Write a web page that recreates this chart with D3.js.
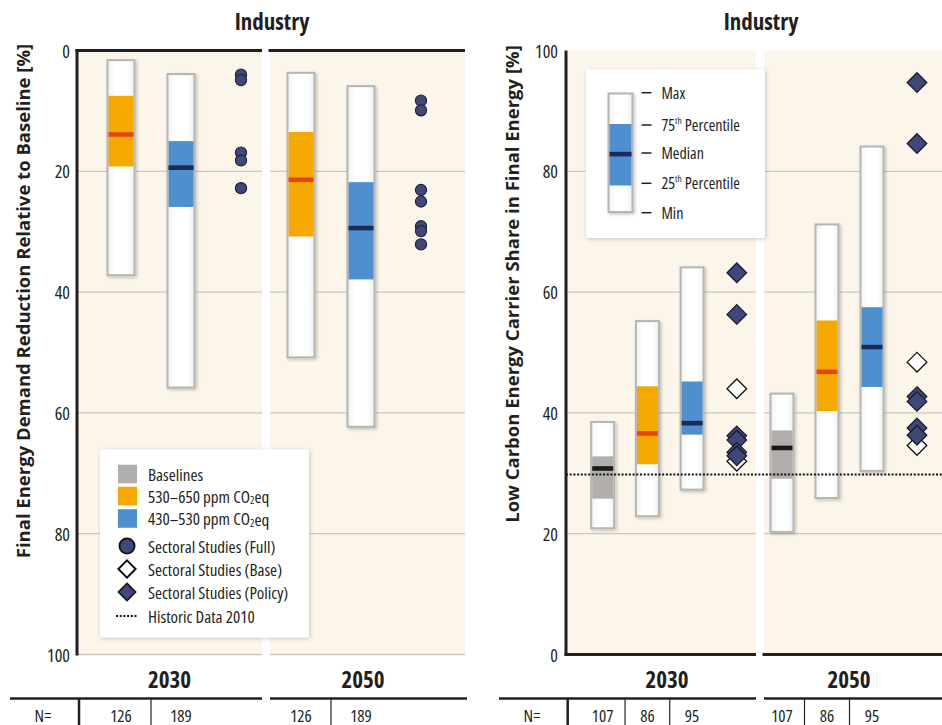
<!DOCTYPE html>
<html><head><meta charset="utf-8">
<script src="https://cdn.jsdelivr.net/npm/d3@7"></script>
<style>
body{margin:0;background:#fff}
svg{display:block}
text{font-family:'Open Sans',sans-serif;fill:#231f20;font-stretch:85%}
text.ytitle{font-stretch:100%}
text.yr{font-stretch:82%}
text.nt{font-stretch:82%}
</style>
</head><body><svg id="c" width="942" height="725"></svg>
<script>
// ---------------- DATA ----------------
const years = ["2030", "2050"];
const chartTitle = "Industry";
// Left chart: Final Energy Demand Reduction Relative to Baseline [%]
// stats: [min, 25th, median, 75th, max]
const leftScenarios = ["530-650", "430-530"];
const leftStats2030 = [[1.6, 7.5, 13.9, 19.2, 37.2], [3.9, 15.0, 19.4, 25.9, 55.8]];
const leftStats2050 = [[3.7, 13.5, 21.4, 30.8, 50.8], [5.9, 21.8, 29.4, 37.9, 62.3]];
const leftFull2030 = [4.0, 4.9, 16.9, 18.2, 22.8];
const leftFull2050 = [8.3, 9.9, 23.1, 25.0, 29.1, 29.9, 32.1];
const leftN = [126, 189];
const leftTicks = [0, 20, 40, 60, 80, 100];
// Right chart: Low Carbon Energy Carrier Share in Final Energy [%]
const rightScenarios = ["baseline", "530-650", "430-530"];
const rightStats2030 = [[20.9, 25.8, 30.8, 32.8, 38.5], [22.9, 31.5, 36.6, 44.4, 55.2], [27.3, 36.4, 38.3, 45.2, 64.1]];
const rightStats2050 = [[20.3, 29.1, 34.2, 37.1, 43.2], [25.9, 40.3, 46.8, 55.3, 71.2], [30.4, 44.3, 50.9, 57.5, 84.1]];
const rightPolicy2030 = [63.2, 56.3, 36.2, 35.5, 33.5, 32.9];
const rightBase2030 = [44.0, 32.0];
const rightPolicy2050 = [94.7, 84.6, 42.7, 41.9, 37.5, 36.3];
const rightBase2050 = [48.4, 34.6];
const rightN = [107, 86, 95];
const rightTicks = [0, 20, 40, 60, 80, 100];
const historic2010 = 29.8;

// ---------------- STYLE ----------------
const fillC = {"baseline": "#b1aeac", "530-650": "#f5a800", "430-530": "#4f8fcd"};
const medC = {"baseline": "#1a1a1a", "530-650": "#e0481c", "430-530": "#1b2a57"};
const bgC = "#fcf5e9", gridC = "#cbc8c2", ink = "#231f20", navy = "#3f4878";

const svg = d3.select("#c");
const defs = svg.append("defs");
const sh = defs.append("filter").attr("id", "sh").attr("x", "-30%").attr("y", "-10%").attr("width", "160%").attr("height", "120%");
sh.append("feDropShadow").attr("dx", 1.5).attr("dy", 1.5).attr("stdDeviation", 1.8).attr("flood-color", "#000").attr("flood-opacity", 0.22);
const sh2 = defs.append("filter").attr("id", "sh2").attr("x", "-10%").attr("y", "-10%").attr("width", "120%").attr("height", "120%");
sh2.append("feDropShadow").attr("dx", 1).attr("dy", 1).attr("stdDeviation", 2).attr("flood-color", "#000").attr("flood-opacity", 0.2);
const gr = defs.append("linearGradient").attr("id", "wg").attr("x1", 0).attr("x2", 1).attr("y1", 0).attr("y2", 0);
gr.append("stop").attr("offset", 0).attr("stop-color", "#f1f2f3");
gr.append("stop").attr("offset", 0.3).attr("stop-color", "#ffffff");
gr.append("stop").attr("offset", 0.7).attr("stop-color", "#ffffff");
gr.append("stop").attr("offset", 1).attr("stop-color", "#eef0f1");

// ---------------- HELPERS ----------------
function drawBox(g, cx, y, st, scen, w) {
  const top = Math.min(y(st[0]), y(st[4])), bot = Math.max(y(st[0]), y(st[4]));
  g.append("rect").attr("x", cx - w / 2).attr("y", top).attr("width", w).attr("height", bot - top)
    .attr("fill", "url(#wg)").attr("stroke", "#b5b5b5").attr("stroke-width", 2).attr("filter", "url(#sh)");
  const qt = Math.min(y(st[1]), y(st[3])), qb = Math.max(y(st[1]), y(st[3]));
  g.append("rect").attr("x", cx - w / 2 + 1).attr("y", qt).attr("width", w - 2).attr("height", qb - qt).attr("fill", fillC[scen]);
  g.append("rect").attr("x", cx - w / 2 + 1).attr("y", y(st[2]) - 2.3).attr("width", w - 2).attr("height", 4.6).attr("fill", medC[scen]);
}
const diamond = h => `M0,${-h}L${h},0L0,${h}L${-h},0Z`;

function panelBg(g, x0, x1, y0, y1) {
  g.append("rect").attr("x", x0).attr("y", y0).attr("width", x1 - x0).attr("height", y1 - y0).attr("fill", bgC);
}
function grid(g, x0, x1, y, ticks) {
  g.selectAll(null).data(ticks).enter().append("line")
    .attr("x1", x0).attr("x2", x1).attr("y1", d => y(d)).attr("y2", d => y(d))
    .attr("stroke", gridC).attr("stroke-width", 1.3);
}

// ---------------- LEFT CHART ----------------
const L = {ax: 77, p1: [77, 262], p2: [270, 465], top: 50.5, bot: 654.5};
const yL = d3.scaleLinear().domain([0, 100]).range([L.top, L.bot]);
const gL = svg.append("g");
panelBg(gL, L.p1[0], L.p1[1], L.top, L.bot);
panelBg(gL, L.p2[0], L.p2[1], L.top, L.bot);
grid(gL, L.p1[0], L.p1[1], yL, leftTicks.filter(d => d > 0));
grid(gL, L.p2[0], L.p2[1], yL, leftTicks.filter(d => d > 0));
const xL = {"2030": d3.scaleLinear().domain([0, 2]).range([121, 241]), "2050": d3.scaleLinear().domain([0, 2]).range([301, 421])};
[[years[0], leftStats2030, leftFull2030], [years[1], leftStats2050, leftFull2050]].forEach(([yr, stats, full]) => {
  stats.forEach((st, i) => drawBox(gL, xL[yr](i), yL, st, leftScenarios[i], 27));
  gL.selectAll(null).data(full).enter().append("circle")
    .attr("cx", xL[yr](2)).attr("cy", d => yL(d)).attr("r", 5.6)
    .attr("fill", navy).attr("stroke", "#1c1f35").attr("stroke-width", 1.1);
});
gL.append("line").attr("x1", L.ax).attr("x2", L.ax).attr("y1", L.top - 1.5).attr("y2", L.bot + 1).attr("stroke", ink).attr("stroke-width", 3);
[L.p1, L.p2].forEach(p => gL.append("line").attr("x1", p[0] - 1.5).attr("x2", p[1]).attr("y1", L.top).attr("y2", L.top).attr("stroke", ink).attr("stroke-width", 3));
gL.selectAll(null).data(leftTicks).enter().append("text")
  .attr("x", 70).attr("y", d => yL(d)).attr("text-anchor", "end").attr("dominant-baseline", "central")
  .attr("font-size", 18).text(d => d);
gL.append("text").attr("class", "ytitle").attr("transform", "translate(30,301) rotate(-90)").attr("text-anchor", "middle")
  .attr("font-size", 18.5).attr("font-weight", "bold").text("Final Energy Demand Reduction Relative to Baseline [%]");
gL.append("text").attr("x", 272).attr("y", 30).attr("text-anchor", "middle").attr("font-size", 23).attr("font-weight", "bold").text(chartTitle);
gL.append("text").attr("class", "yr").attr("x", 169.5).attr("y", 688).attr("text-anchor", "middle").attr("font-size", 23).attr("font-weight", "bold").text(years[0]);
gL.append("text").attr("class", "yr").attr("x", 363).attr("y", 688).attr("text-anchor", "middle").attr("font-size", 23).attr("font-weight", "bold").text(years[1]);
gL.append("line").attr("x1", 10).attr("x2", 262).attr("y1", 698.5).attr("y2", 698.5).attr("stroke", ink).attr("stroke-width", 2.5);
gL.append("line").attr("x1", 270).attr("x2", 467).attr("y1", 698.5).attr("y2", 698.5).attr("stroke", ink).attr("stroke-width", 2.5);
gL.append("line").attr("x1", 79).attr("x2", 79).attr("y1", 698).attr("y2", 725).attr("stroke", ink).attr("stroke-width", 2.5);
[(xL["2030"](0) + xL["2030"](1)) / 2, (xL["2050"](0) + xL["2050"](1)) / 2].forEach(x =>
  gL.append("line").attr("x1", x).attr("x2", x).attr("y1", 698).attr("y2", 725).attr("stroke", ink).attr("stroke-width", 1.2));
gL.append("text").attr("class", "nt").attr("x", 43).attr("y", 715).attr("text-anchor", "middle").attr("dominant-baseline", "central").attr("font-size", 17).text("N=");
years.forEach(yr => leftN.forEach((n, i) => gL.append("text").attr("class", "nt").attr("x", xL[yr](i)).attr("y", 715)
  .attr("text-anchor", "middle").attr("dominant-baseline", "central").attr("font-size", 17).text(n)));

const lg = svg.append("g");
lg.append("rect").attr("x", 100).attr("y", 449.5).attr("width", 209).attr("height", 188).attr("fill", "#fff").attr("filter", "url(#sh2)");
const legRows = [
  {t: "Baselines", k: "sq", c: fillC["baseline"], y: 474},
  {t: "530–650 ppm CO", sub: "2", t2: "eq", k: "sq", c: fillC["530-650"], y: 496},
  {t: "430–530 ppm CO", sub: "2", t2: "eq", k: "sq", c: fillC["430-530"], y: 518.5},
  {t: "Sectoral Studies (Full)", k: "circ", y: 546},
  {t: "Sectoral Studies (Base)", k: "dopen", y: 569},
  {t: "Sectoral Studies (Policy)", k: "dfill", y: 592},
  {t: "Historic Data 2010", k: "dot", y: 616}
];
legRows.forEach(r => {
  if (r.k === "sq") lg.append("rect").attr("x", 118).attr("y", r.y - 9.3).attr("width", 19).attr("height", 18.6).attr("fill", r.c);
  if (r.k === "circ") lg.append("circle").attr("cx", 127).attr("cy", r.y).attr("r", 7.6).attr("fill", navy).attr("stroke", "#111").attr("stroke-width", 1.8);
  if (r.k === "dopen") lg.append("path").attr("d", diamond(8.6)).attr("transform", `translate(127,${r.y})`).attr("fill", "#fff").attr("stroke", "#111").attr("stroke-width", 2);
  if (r.k === "dfill") lg.append("path").attr("d", diamond(8.6)).attr("transform", `translate(127,${r.y})`).attr("fill", navy).attr("stroke", "#111").attr("stroke-width", 1.6);
  if (r.k === "dot") lg.append("line").attr("x1", 116).attr("x2", 138).attr("y1", r.y).attr("y2", r.y).attr("stroke", "#111").attr("stroke-width", 2).attr("stroke-dasharray", "2,1.7");
  const t = lg.append("text").attr("x", 148).attr("y", r.y).attr("dominant-baseline", "central").attr("font-size", 17).text(r.t);
  if (r.sub) {
    t.append("tspan").attr("font-size", 10.5).attr("dy", 4).text(r.sub);
    t.append("tspan").attr("dy", -4).text(r.t2);
  }
});

// ---------------- RIGHT CHART ----------------
const R = {ax: 566, p1: [566, 756], p2: [764, 942], top: 50.5, bot: 654.5};
const yR = d3.scaleLinear().domain([0, 100]).range([R.bot, R.top]);
const gR = svg.append("g");
panelBg(gR, R.p1[0], R.p1[1], R.top, R.bot);
panelBg(gR, R.p2[0], R.p2[1], R.top, R.bot);
grid(gR, R.p1[0], R.p1[1], yR, rightTicks.filter(d => d > 0 && d < 100));
grid(gR, R.p2[0], R.p2[1], yR, rightTicks.filter(d => d > 0 && d < 100));
const xR = {"2030": d3.scaleLinear().domain([0, 3]).range([602.7, 736.8]), "2050": d3.scaleLinear().domain([0, 3]).range([782, 917])};
[[years[0], rightStats2030, rightBase2030, rightPolicy2030], [years[1], rightStats2050, rightBase2050, rightPolicy2050]].forEach(([yr, stats, base, pol]) => {
  stats.forEach((st, i) => drawBox(gR, xR[yr](i), yR, st, rightScenarios[i], 23));
  gR.selectAll(null).data(base).enter().append("path").attr("d", diamond(9.8))
    .attr("transform", d => `translate(${xR[yr](3)},${yR(d)})`).attr("fill", "#fff").attr("stroke", "#111").attr("stroke-width", 1.3);
  gR.selectAll(null).data(pol).enter().append("path").attr("d", diamond(9.8))
    .attr("transform", d => `translate(${xR[yr](3)},${yR(d)})`).attr("fill", navy).attr("stroke", "#15172a").attr("stroke-width", 1.2);
});
gR.append("line").attr("x1", R.ax).attr("x2", 942).attr("y1", yR(historic2010)).attr("y2", yR(historic2010))
  .attr("stroke", "#111").attr("stroke-width", 2).attr("stroke-dasharray", "2,1.7");
gR.append("line").attr("x1", R.ax).attr("x2", R.ax).attr("y1", R.top).attr("y2", R.bot + 1.5).attr("stroke", ink).attr("stroke-width", 3);
[R.p1, R.p2].forEach(p => gR.append("line").attr("x1", p[0] - 1.5).attr("x2", p[1]).attr("y1", R.bot).attr("y2", R.bot).attr("stroke", ink).attr("stroke-width", 3));
gR.selectAll(null).data(rightTicks).enter().append("text")
  .attr("x", 558).attr("y", d => yR(d)).attr("text-anchor", "end").attr("dominant-baseline", "central")
  .attr("font-size", 18).text(d => d);
gR.append("text").attr("class", "ytitle").attr("transform", "translate(519,284) rotate(-90)").attr("text-anchor", "middle")
  .attr("font-size", 18.5).attr("font-weight", "bold").text("Low Carbon Energy Carrier Share in Final Energy [%]");
gR.append("text").attr("x", 761).attr("y", 30).attr("text-anchor", "middle").attr("font-size", 23).attr("font-weight", "bold").text(chartTitle);
gR.append("text").attr("class", "yr").attr("x", 667).attr("y", 688).attr("text-anchor", "middle").attr("font-size", 23).attr("font-weight", "bold").text(years[0]);
gR.append("text").attr("class", "yr").attr("x", 849).attr("y", 688).attr("text-anchor", "middle").attr("font-size", 23).attr("font-weight", "bold").text(years[1]);
gR.append("line").attr("x1", 499).attr("x2", 756).attr("y1", 698.5).attr("y2", 698.5).attr("stroke", ink).attr("stroke-width", 2.5);
gR.append("line").attr("x1", 764).attr("x2", 942).attr("y1", 698.5).attr("y2", 698.5).attr("stroke", ink).attr("stroke-width", 2.5);
gR.append("line").attr("x1", 567.7).attr("x2", 567.7).attr("y1", 698).attr("y2", 725).attr("stroke", ink).attr("stroke-width", 2.5);
years.forEach(yr => [0, 1].forEach(i => {
  const x = (xR[yr](i) + xR[yr](i + 1)) / 2;
  gR.append("line").attr("x1", x).attr("x2", x).attr("y1", 698).attr("y2", 725).attr("stroke", ink).attr("stroke-width", 1.2);
}));
gR.append("text").attr("class", "nt").attr("x", 532).attr("y", 715).attr("text-anchor", "middle").attr("dominant-baseline", "central").attr("font-size", 17).text("N=");
years.forEach(yr => rightN.forEach((n, i) => gR.append("text").attr("class", "nt").attr("x", xR[yr](i)).attr("y", 715)
  .attr("text-anchor", "middle").attr("dominant-baseline", "central").attr("font-size", 17).text(n)));

const rg = svg.append("g");
rg.append("rect").attr("x", 586).attr("y", 69.5).attr("width", 179).attr("height", 168.5).attr("fill", "#fff").attr("filter", "url(#sh2)");
rg.append("rect").attr("x", 608.5).attr("y", 93.5).attr("width", 24).attr("height", 118.5).attr("fill", "url(#wg)").attr("stroke", "#b5b5b5").attr("stroke-width", 2).attr("filter", "url(#sh)");
rg.append("rect").attr("x", 609.5).attr("y", 124).attr("width", 22).attr("height", 61.5).attr("fill", fillC["430-530"]);
rg.append("rect").attr("x", 609.5).attr("y", 151.8).attr("width", 22).attr("height", 4.6).attr("fill", medC["430-530"]);
const keyRows = [["Max", null, 92.7], ["75", "th", 125], ["Median", null, 153], ["25", "th", 183.3], ["Min", null, 212.7]];
keyRows.forEach(([a, sup, y]) => {
  rg.append("line").attr("x1", 641.5).attr("x2", 651.5).attr("y1", y).attr("y2", y).attr("stroke", ink).attr("stroke-width", 1.5);
  const t = rg.append("text").attr("x", 661.5).attr("y", y).attr("dominant-baseline", "central").attr("font-size", 16).text(a);
  if (sup) {
    t.append("tspan").attr("font-size", 9.5).attr("dy", -5).text(sup);
    t.append("tspan").attr("dy", 5).text(" Percentile");
  }
});
</script></body></html>
